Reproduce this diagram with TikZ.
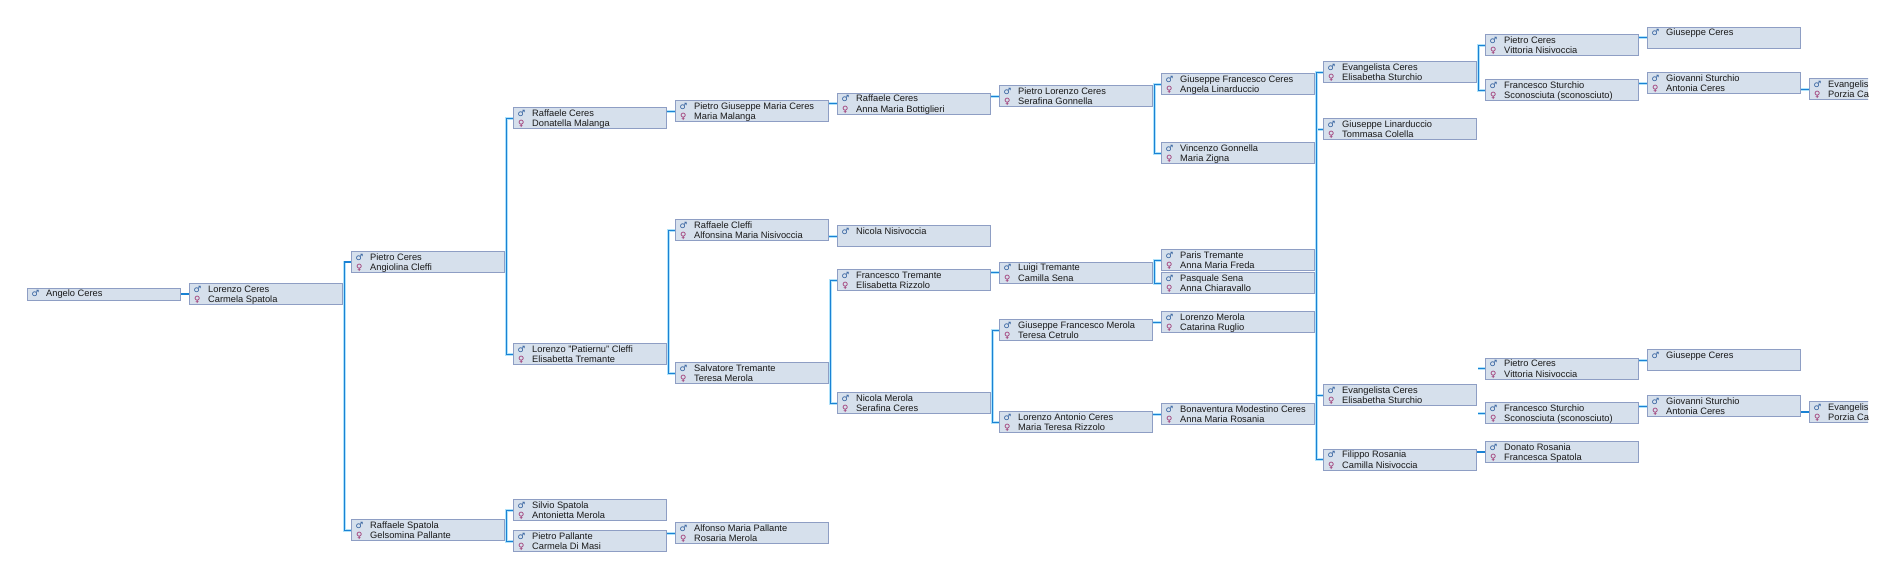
\documentclass[tikz,border=0pt]{standalone}
\usepackage{fontspec}
\setmainfont{Liberation Sans}
\newfontfamily\symfont{DejaVu Sans}
\usetikzlibrary{backgrounds}
\definecolor{boxfill}{HTML}{D6E0EC}
\definecolor{boxdraw}{HTML}{8E9EC4}
\definecolor{lineblue}{HTML}{1A82D4}
\definecolor{linehalo}{HTML}{B0E2FA}
\definecolor{malec}{HTML}{2A5A9A}
\definecolor{femc}{HTML}{9A2A6A}
\tikzset{
  pbox/.style={draw=boxdraw, fill=boxfill, line width=0.8pt, inner sep=0pt,
    minimum width=153pt, minimum height=21pt, anchor=north west},
  sbox/.style={pbox, minimum height=12pt},
  ntxt/.style={inner sep=0pt, anchor=base west, font=\fontsize{9.3}{10}\selectfont, text=black!90},
  msym/.style={inner sep=0pt, anchor=base west, font=\symfont\fontsize{8.6}{9}\selectfont, text=malec},
  fsym/.style={inner sep=0pt, anchor=base west, font=\symfont\fontsize{8.6}{9}\selectfont, text=femc},
  conn/.style={draw=lineblue, line width=1.3pt, preaction={draw=linehalo, line width=2.8pt}},
}
\newcommand{\pcouple}[5]{%
  \node[pbox] (#1) at (#2,#3) {};
  \node[msym] (#1a) at (#2+4.5,#3+9) {♂};
  \node[ntxt] (#1b) at (#2+19,#3+9) {#4};
  \node[fsym] (#1c) at (#2+5,#3+19.3) {♀};
  \node[ntxt] (#1d) at (#2+19,#3+19.3) {#5};
}
\newcommand{\psingle}[4]{%
  \node[pbox] (#1) at (#2,#3) {};
  \node[msym] (#1a) at (#2+4.5,#3+9) {♂};
  \node[ntxt] (#1b) at (#2+19,#3+9) {#4};
}
\newcommand{\twopar}[3]{%
  \draw[conn] (#1.east) -- ++(2,0) coordinate (#1v);
  \draw[conn] (#2.west) -| (#1v) |- (#3.west);
}
\newcommand{\onepar}[2]{%
  \draw[conn] (#2.west) -- (#2.west -| #1.east);
}
\begin{document}
\begin{tikzpicture}[x=1pt,y=-1pt]
\useasboundingbox (0,0) rectangle (1893,578);
\clip (0,0) rectangle (1868,578);
% column 0
\node[sbox] (A) at (27,288) {};
\node[msym] (Aa) at (31.5,296.7) {♂};
\node[ntxt] (Ab) at (46,296.7) {Angelo Ceres};
% column 1
\pcouple{B}{189}{283}{Lorenzo Ceres}{Carmela Spatola}
% column 2
\pcouple{C1}{351}{251}{Pietro Ceres}{Angiolina Cleffi}
\pcouple{C2}{351}{519.3}{Raffaele Spatola}{Gelsomina Pallante}
% column 3
\pcouple{D1}{513}{107.3}{Raffaele Ceres}{Donatella Malanga}
\pcouple{D2}{513}{343.3}{Lorenzo "Patiernu" Cleffi}{Elisabetta Tremante}
\pcouple{D3}{513}{499.3}{Silvio Spatola}{Antonietta Merola}
\pcouple{D4}{513}{530.3}{Pietro Pallante}{Carmela Di Masi}
% column 4
\pcouple{E1}{675}{100.3}{Pietro Giuseppe Maria Ceres}{Maria Malanga}
\pcouple{E2}{675}{219.3}{Raffaele Cleffi}{Alfonsina Maria Nisivoccia}
\pcouple{E3}{675}{362.3}{Salvatore Tremante}{Teresa Merola}
\pcouple{E4}{675}{522.3}{Alfonso Maria Pallante}{Rosaria Merola}
% column 5
\pcouple{F1}{837}{92.7}{Raffaele Ceres}{Anna Maria Bottiglieri}
\psingle{F2}{837}{225.3}{Nicola Nisivoccia}
\pcouple{F3}{837}{269.3}{Francesco Tremante}{Elisabetta Rizzolo}
\pcouple{F4}{837}{392.3}{Nicola Merola}{Serafina Ceres}
% column 6
\pcouple{G1}{999}{85.3}{Pietro Lorenzo Ceres}{Serafina Gonnella}
\pcouple{G2}{999}{261.7}{Luigi Tremante}{Camilla Sena}
\pcouple{G3}{999}{319.3}{Giuseppe Francesco Merola}{Teresa Cetrulo}
\pcouple{G4}{999}{411.3}{Lorenzo Antonio Ceres}{Maria Teresa Rizzolo}
% column 7
\pcouple{H1}{1161}{73.3}{Giuseppe Francesco Ceres}{Angela Linarduccio}
\pcouple{H2}{1161}{142.3}{Vincenzo Gonnella}{Maria Zigna}
\pcouple{H3}{1161}{249.3}{Paris Tremante}{Anna Maria Freda}
\pcouple{H4}{1161}{272.3}{Pasquale Sena}{Anna Chiaravallo}
\pcouple{H5}{1161}{311.3}{Lorenzo Merola}{Catarina Ruglio}
\pcouple{H6}{1161}{403.3}{Bonaventura Modestino Ceres}{Anna Maria Rosania}
% column 8
\pcouple{I1}{1323}{61.3}{Evangelista Ceres}{Elisabetha Sturchio}
\pcouple{I2}{1323}{118.3}{Giuseppe Linarduccio}{Tommasa Colella}
\pcouple{I3}{1323}{384.3}{Evangelista Ceres}{Elisabetha Sturchio}
\pcouple{I4}{1323}{448.7}{Filippo Rosania}{Camilla Nisivoccia}
% column 9
\pcouple{J1}{1485}{34.3}{Pietro Ceres}{Vittoria Nisivoccia}
\pcouple{J2}{1485}{79.3}{Francesco Sturchio}{Sconosciuta (sconosciuto)}
\pcouple{J3}{1485}{357.7}{Pietro Ceres}{Vittoria Nisivoccia}
\pcouple{J4}{1485}{402.3}{Francesco Sturchio}{Sconosciuta (sconosciuto)}
\pcouple{J5}{1485}{441}{Donato Rosania}{Francesca Spatola}
% column 10
\psingle{K1}{1647}{26.7}{Giuseppe Ceres}
\pcouple{K2}{1647}{72.3}{Giovanni Sturchio}{Antonia Ceres}
\psingle{K3}{1647}{349.3}{Giuseppe Ceres}
\pcouple{K4}{1647}{395.3}{Giovanni Sturchio}{Antonia Ceres}
% column 11 (cut at the right edge)
\pcouple{L1}{1809}{78.3}{Evangelis}{Porzia Ca}
\pcouple{L2}{1809}{401}{Evangelis}{Porzia Ca}
% connectors
\begin{scope}[on background layer]
\onepar{A}{B}
\twopar{B}{C1}{C2}
\twopar{C1}{D1}{D2}
\twopar{C2}{D3}{D4}
\onepar{D1}{E1}
\twopar{D2}{E2}{E3}
\onepar{D4}{E4}
\onepar{E1}{F1}
\onepar{E2}{F2}
\twopar{E3}{F3}{F4}
\onepar{F1}{G1}
\onepar{F3}{G2}
\twopar{F4}{G3}{G4}
\twopar{G1}{H1}{H2}
\twopar{G2}{H3}{H4}
\onepar{G3}{H5}
\onepar{G4}{H6}
\twopar{H1}{I1}{I2}
\twopar{H6}{I3}{I4}
\draw[conn] (I2.west -| H1v) -- (I3.west -| H6v);
\twopar{I1}{J1}{J2}
\draw[conn] (J3.west) -- ++(-7,0);
\draw[conn] (J4.west) -- ++(-7,0);
\onepar{I4}{J5}
\onepar{J1}{K1}
\onepar{J2}{K2}
\onepar{J3}{K3}
\onepar{J4}{K4}
\onepar{K2}{L1}
\onepar{K4}{L2}
\end{scope}
\end{tikzpicture}
\end{document}
